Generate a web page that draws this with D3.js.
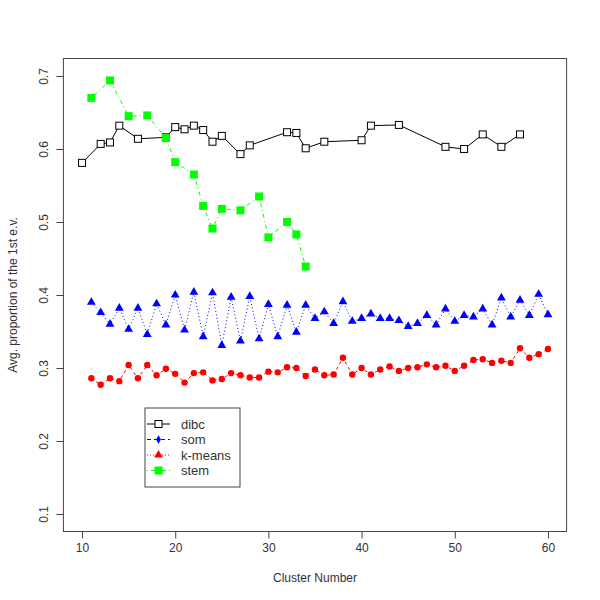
<!DOCTYPE html>
<html>
<head>
<meta charset="utf-8">
<script src="https://cdn.jsdelivr.net/npm/d3@7"></script>
<style>
  body { margin: 0; background: #fff; }
  text { font-family: "Liberation Sans", Arial, sans-serif; fill: #333; }
</style>
</head>
<body>
<div id="chart"></div>
<script>
// data
const dibcX = [10, 12, 13, 14, 16, 19, 20, 21, 22, 23, 24, 25, 27, 28, 32, 33, 34, 36, 40, 41, 44, 49, 51, 53, 55, 57];
const dibcY = [0.581, 0.607, 0.609, 0.632, 0.614, 0.616, 0.630, 0.627, 0.632, 0.626, 0.610, 0.618, 0.593, 0.605,
  0.623, 0.622, 0.601, 0.610, 0.612, 0.632, 0.633, 0.603, 0.600, 0.620, 0.603, 0.620];

const clusterX = [11, 12, 13, 14, 15, 16, 17, 18, 19, 20, 21, 22, 23, 24, 25, 26, 27, 28, 29, 30, 31, 32, 33, 34, 35,
  36, 37, 38, 39, 40, 41, 42, 43, 44, 45, 46, 47, 48, 49, 50, 51, 52, 53, 54, 55, 56, 57, 58, 59, 60];
const somY = [0.390, 0.376, 0.360, 0.382, 0.353, 0.382, 0.346, 0.388, 0.359, 0.400, 0.352, 0.404, 0.343, 0.403,
  0.331, 0.397, 0.337, 0.398, 0.340, 0.387, 0.343, 0.386, 0.349, 0.386, 0.368, 0.377, 0.361, 0.391, 0.364, 0.368,
  0.374, 0.368, 0.368, 0.365, 0.357, 0.361, 0.372, 0.359, 0.381, 0.364, 0.372, 0.370, 0.381, 0.359, 0.396, 0.370,
  0.393, 0.372, 0.401, 0.373];
const kmeansY = [0.286, 0.277, 0.286, 0.282, 0.304, 0.286, 0.304, 0.290, 0.299, 0.292, 0.280, 0.293, 0.294, 0.283,
  0.285, 0.293, 0.290, 0.287, 0.287, 0.295, 0.294, 0.301, 0.300, 0.289, 0.298, 0.290, 0.291, 0.314, 0.291, 0.300,
  0.291, 0.298, 0.302, 0.296, 0.300, 0.301, 0.305, 0.301, 0.303, 0.296, 0.303, 0.311, 0.312, 0.307, 0.310, 0.307,
  0.327, 0.314, 0.319, 0.326];

const stemX = [11, 13, 15, 17, 19, 20, 22, 23, 24, 25, 27, 29, 30, 32, 33, 34];
const stemY = [0.670, 0.694, 0.645, 0.646, 0.615, 0.582, 0.565, 0.522, 0.491, 0.518, 0.516, 0.535, 0.479, 0.500,
  0.483, 0.439];

const xTicks = [10, 20, 30, 40, 50, 60];
const yTicks = [0.1, 0.2, 0.3, 0.4, 0.5, 0.6, 0.7];

const series = [
  { name: "dibc", xs: dibcX, ys: dibcY, color: "#000000", dash: null, mark: "openSquare" },
  { name: "som", xs: clusterX, ys: somY, color: "#0000ff", dash: "1,2.5", mark: "triangle" },
  { name: "k-means", xs: clusterX, ys: kmeansY, color: "#ff0000", dash: "3,3", mark: "dot" },
  { name: "stem", xs: stemX, ys: stemY, color: "#00ff00", dash: "1,3,4,3", mark: "square" },
];
// legend as drawn in the original (markers swapped vs plot)
const legendItems = [
  { name: "dibc", color: "#000000", dash: null, mark: "openSquare" },
  { name: "som", color: "#0000ff", dash: "4,3", mark: "diamond" },
  { name: "k-means", color: "#ff0000", dash: "1,2", mark: "triangle" },
  { name: "stem", color: "#00ff00", dash: "1,3,4,3", mark: "square" },
];

const svgWidth = 600, svgHeight = 600;
const box = { left: 63.4, right: 566.6, top: 58.5, bottom: 531.5 };

const svg = d3.select("#chart").append("svg")
  .attr("width", svgWidth)
  .attr("height", svgHeight);

const x = d3.scaleLinear().domain([8, 62]).range([box.left, box.right]);
const y = d3.scaleLinear().domain([0.076, 0.724]).range([box.bottom, box.top]);

// x axis
const xAxis = svg.append("g")
  .attr("transform", "translate(0," + box.bottom + ")")
  .call(d3.axisBottom(x).tickValues(xTicks).tickSize(7).tickPadding(5).tickFormat(d3.format("d")));
xAxis.select(".domain").remove();
xAxis.selectAll("line").attr("stroke", "#444");
xAxis.selectAll("text").style("font-size", "12px").attr("fill", "#333");

// y axis, labels rotated like base R
const yAxis = svg.append("g")
  .attr("transform", "translate(" + box.left + ",0)")
  .call(d3.axisLeft(y).tickValues(yTicks).tickSize(7).tickFormat(d3.format(".1f")));
yAxis.select(".domain").remove();
yAxis.selectAll("line").attr("stroke", "#444");
yAxis.selectAll("text")
  .style("font-size", "12px")
  .attr("fill", "#333")
  .attr("x", null).attr("dy", null)
  .attr("text-anchor", "middle")
  .attr("transform", "translate(-15,0) rotate(-90)");

// plot box
svg.append("rect")
  .attr("x", box.left).attr("y", box.top)
  .attr("width", box.right - box.left).attr("height", box.bottom - box.top)
  .attr("fill", "none").attr("stroke", "#444").attr("stroke-width", 1);

// titles
svg.append("text")
  .attr("x", (box.left + box.right) / 2).attr("y", 582)
  .attr("text-anchor", "middle").style("font-size", "12px")
  .text("Cluster Number");
svg.append("text")
  .attr("transform", "translate(17," + (box.top + box.bottom) / 2 + ") rotate(-90)")
  .attr("text-anchor", "middle").style("font-size", "12px")
  .text("Avg. proportion of the 1st e.v.");

function drawMark(g, kind, color) {
  if (kind === "openSquare") {
    g.append("rect").attr("x", -3.5).attr("y", -3.5).attr("width", 7).attr("height", 7)
      .attr("fill", "#fff").attr("stroke", color).attr("stroke-width", 1);
  } else if (kind === "square") {
    g.append("rect").attr("x", -4).attr("y", -4).attr("width", 8).attr("height", 8).attr("fill", color);
  } else if (kind === "triangle") {
    g.append("path").attr("d", d3.symbol(d3.symbolTriangle, 34)()).attr("fill", color);
  } else if (kind === "diamond") {
    g.append("path").attr("d", d3.symbol(d3.symbolDiamond, 20)()).attr("fill", color);
  } else {
    g.append("circle").attr("r", 3.2).attr("fill", color);
  }
}

const line = d3.line().x(d => x(d[0])).y(d => y(d[1]));

series.forEach(s => {
  const pts = s.xs.map((v, i) => [v, s.ys[i]]);
  svg.append("path")
    .attr("d", line(pts))
    .attr("fill", "none")
    .attr("stroke", s.color)
    .attr("stroke-width", 1)
    .attr("stroke-dasharray", s.dash);
  pts.forEach(p => {
    const g = svg.append("g").attr("transform", "translate(" + x(p[0]) + "," + y(p[1]) + ")");
    drawMark(g, s.mark, s.color);
  });
});

// legend
const legend = svg.append("g").attr("transform", "translate(145,408)");
legend.append("rect").attr("width", 95).attr("height", 79)
  .attr("fill", "#fff").attr("stroke", "#444");
legendItems.forEach((d, i) => {
  const ly = 16 + i * 15.5;
  legend.append("line").attr("x1", 2).attr("x2", 25).attr("y1", ly).attr("y2", ly)
    .attr("stroke", d.color).attr("stroke-dasharray", d.dash);
  drawMark(legend.append("g").attr("transform", "translate(13.5," + ly + ")"), d.mark, d.color);
  legend.append("text").attr("x", 36).attr("y", ly).attr("dy", "0.35em")
    .style("font-size", "13px").text(d.name);
});
</script>
</body>
</html>
